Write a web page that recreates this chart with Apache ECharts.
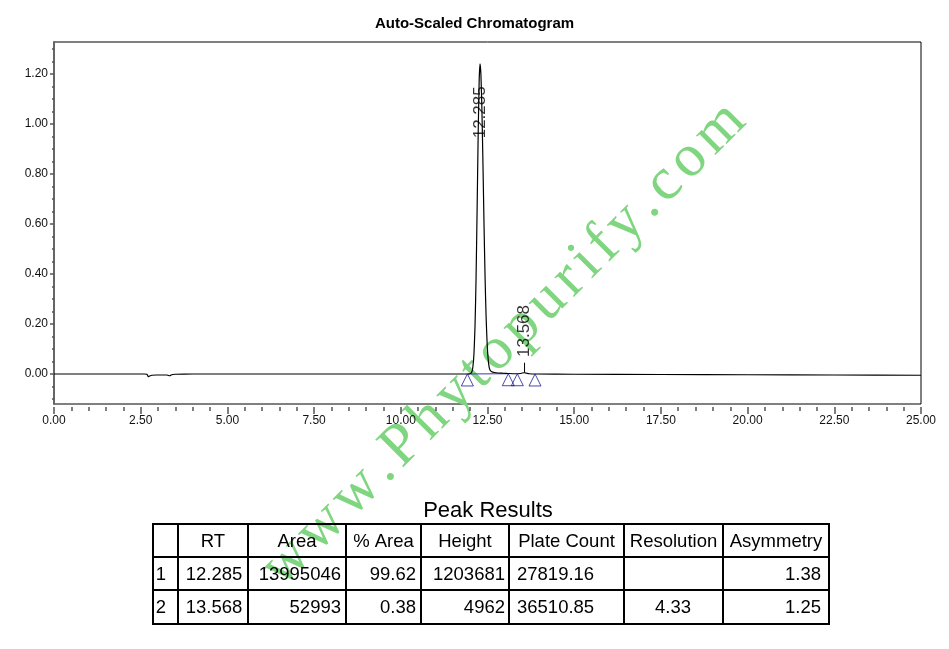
<!DOCTYPE html>
<html>
<head>
<meta charset="utf-8">
<script src="https://cdn.jsdelivr.net/npm/echarts@6/dist/echarts.min.js"></script>
<style>
  html, body { margin: 0; padding: 0; background: #fff; }
  #chart { width: 949px; height: 649px; }
</style>
</head>
<body>
<div id="chart"></div>
<script>
// detector trace: [minutes, AU]
const trace = [
  [0, 0], [1, 0], [2, 0], [2.6, 0], [2.68, -0.001], [2.72, -0.011], [2.76, -0.008],
  [2.82, -0.005], [2.95, -0.004], [3.1, -0.004], [3.25, -0.004], [3.3, -0.006],
  [3.34, -0.007], [3.38, -0.004], [3.42, -0.002], [3.5, -0.001], [4, 0], [5, 0],
  [6, 0], [7, 0], [8, 0], [9, 0], [10, 0], [11, 0], [11.5, 0], [11.9, 0],
  [12.0, 0.001], [12.05, 0.009], [12.08, 0.03], [12.11, 0.082], [12.14, 0.191],
  [12.17, 0.383], [12.2, 0.653], [12.23, 0.948], [12.26, 1.173], [12.285, 1.24],
  [12.31, 1.198], [12.34, 1.049], [12.37, 0.831], [12.4, 0.595], [12.43, 0.387],
  [12.46, 0.227], [12.49, 0.121], [12.52, 0.058], [12.55, 0.025], [12.58, 0.014],
  [12.62, 0.009], [12.7, 0.006], [12.8, 0.004], [12.95, 0.003], [13.1, 0.002],
  [13.3, 0.001], [13.45, 0.002], [13.5, 0.004], [13.568, 0.005], [13.63, 0.003],
  [13.7, 0.001], [13.9, 0], [15, -0.001], [17.5, -0.002], [20, -0.003],
  [22.5, -0.004], [25, -0.005]
];

// integration baseline and peak start/end marks
const baselineSeg = [[11.92, 0], [13.1, 0.001]];
const peakMarks = [[11.92, 0], [13.1, 0.001], [13.36, 0.001], [13.87, 0]];

// peak retention time labels
const peakRT = [12.285, 13.568];
const peakLabelY = [0.942, 0.068];
const peakTick = [[13.568, 0.005], [13.568, 0.045]];

// axis ticks
const yLabels = [0, 0.2, 0.4, 0.6, 0.8, 1.0, 1.2];
const yMinor = [-0.1, -0.05, 0, 0.05, 0.1, 0.15, 0.2, 0.25, 0.3, 0.35, 0.4, 0.45, 0.5,
  0.55, 0.6, 0.65, 0.7, 0.75, 0.8, 0.85, 0.9, 0.95, 1.0, 1.05, 1.1, 1.15, 1.2, 1.25, 1.3];

// peak results table
const tableHeader = ['', 'RT', 'Area', '% Area', 'Height', 'Plate Count', 'Resolution', 'Asymmetry'];
const tableRows = [
  ['1', '12.285', '13995046', '99.62', '1203681', '27819.16', '', '1.38'],
  ['2', '13.568', '52993', '0.38', '4962', '36510.85', '4.33', '1.25']
];

const watermark = 'www.Phytopurify.com';

const chart = echarts.init(document.getElementById('chart'));

const FONT = 'Liberation Sans, Arial, sans-serif';
const CELL_FONT = '18.5px ' + FONT;

// table layout
const colX = [153, 178, 248, 346, 421, 509, 624, 723, 829];
const rowY = [524, 557, 590, 624];
// how each column sits: [align, x]
const cellPos = [
  ['center', 161], ['center', 214], ['right', 341], ['right', 416],
  ['right', 505], ['left', 517], ['center', 673], ['right', 821]
];

function tableGraphics() {
  const g = [];
  colX.forEach(x => {
    g.push({
      type: 'line',
      shape: { x1: x, y1: rowY[0], x2: x, y2: rowY[rowY.length - 1] },
      style: { stroke: '#000', lineWidth: 2 }
    });
  });
  rowY.forEach(y => {
    g.push({
      type: 'line',
      shape: { x1: colX[0] - 1, y1: y, x2: colX[colX.length - 1] + 1, y2: y },
      style: { stroke: '#000', lineWidth: 2 }
    });
  });
  tableHeader.forEach((t, i) => {
    g.push({
      type: 'text',
      x: (colX[i] + colX[i + 1]) / 2,
      y: (rowY[0] + rowY[1]) / 2 + 1,
      style: { text: t, font: CELL_FONT, fill: '#000', align: 'center', verticalAlign: 'middle' }
    });
  });
  tableRows.forEach((row, r) => {
    row.forEach((t, i) => {
      g.push({
        type: 'text',
        x: cellPos[i][1],
        y: (rowY[r + 1] + rowY[r + 2]) / 2 + 1,
        style: { text: t, font: CELL_FONT, fill: '#000', align: cellPos[i][0], verticalAlign: 'middle' }
      });
    });
  });
  return g;
}

// letter-spaced watermark: one text per character along a rotated baseline
function watermarkGraphic() {
  const font = '60px Liberation Serif, serif';
  const ctx = document.createElement('canvas').getContext('2d');
  ctx.font = font;
  const gap = 6;
  let x = 0;
  const children = [];
  for (const ch of watermark) {
    children.push({
      type: 'text',
      x: x,
      y: 0,
      style: { text: ch, font: font, fill: '#80d680', align: 'left', verticalAlign: 'alphabetic' }
    });
    x += ctx.measureText(ch).width + gap;
  }
  return {
    type: 'group',
    x: 250,
    y: 556,
    rotation: 45 * Math.PI / 180,
    z: 1,
    children: children
  };
}

const option = {
  animation: false,
  backgroundColor: '#fff',
  title: {
    text: 'Auto-Scaled Chromatogram',
    left: 'center',
    top: 11,
    textStyle: { fontFamily: FONT, fontSize: 15, fontWeight: 'bold', color: '#000' }
  },
  grid: {
    left: 54,
    right: 28,
    top: 42,
    bottom: 245,
    show: true,
    borderColor: '#000',
    borderWidth: 1,
    backgroundColor: 'transparent'
  },
  xAxis: {
    type: 'value',
    min: 0,
    max: 25,
    interval: 2.5,
    offset: 3,
    axisLine: { show: false, onZero: false },
    axisTick: { show: true, length: 7, lineStyle: { color: '#555', width: 1.5 } },
    minorTick: { show: true, splitNumber: 5, length: 4, lineStyle: { color: '#555', width: 1.5 } },
    splitLine: { show: false },
    axisLabel: {
      margin: 8,
      fontFamily: FONT,
      fontSize: 12,
      color: '#111',
      formatter: v => v.toFixed(2)
    }
  },
  yAxis: [
    {
      type: 'value',
      min: -0.12,
      max: 1.327,
      axisLine: { show: true, lineStyle: { color: '#666', width: 2 } },
      axisTick: { show: true, length: 4, customValues: yLabels, lineStyle: { color: '#555', width: 1.5 } },
      splitLine: { show: false },
      axisLabel: {
        customValues: yLabels,
        margin: 6,
        fontFamily: FONT,
        fontSize: 12,
        color: '#111',
        formatter: v => v.toFixed(2)
      }
    },
    {
      type: 'value',
      position: 'left',
      min: -0.12,
      max: 1.327,
      axisLine: { show: false },
      axisTick: { show: true, length: 2, customValues: yMinor, lineStyle: { color: '#555', width: 1.5 } },
      splitLine: { show: false },
      axisLabel: { show: false }
    }
  ],
  series: [
    {
      name: 'trace',
      type: 'line',
      data: trace,
      showSymbol: false,
      smooth: 0.2,
      lineStyle: { color: '#000', width: 1.2 },
      z: 3
    },
    {
      name: 'baseline',
      type: 'line',
      data: baselineSeg,
      showSymbol: false,
      lineStyle: { color: '#3a3ab0', width: 1 },
      z: 2
    },
    {
      name: 'peakTick',
      type: 'line',
      data: peakTick,
      showSymbol: false,
      lineStyle: { color: '#000', width: 1 },
      z: 3
    },
    {
      name: 'marks',
      type: 'scatter',
      data: peakMarks,
      symbol: 'triangle',
      symbolSize: [12, 12],
      symbolOffset: [0, 6],
      itemStyle: { color: 'rgba(0,0,0,0)', borderColor: '#1c1c9c', borderWidth: 1 },
      z: 4
    },
    {
      name: 'rtLabels',
      type: 'scatter',
      data: peakRT.map((rt, i) => [rt, peakLabelY[i]]),
      symbolSize: 0,
      label: {
        show: true,
        position: [0, 0],
        rotate: 90,
        align: 'left',
        verticalAlign: 'middle',
        fontFamily: FONT,
        fontSize: 17,
        color: '#000',
        formatter: p => p.value[0].toFixed(3)
      },
      z: 5
    }
  ],
  graphic: [
    watermarkGraphic(),
    {
      type: 'text',
      x: 488,
      y: 511,
      style: { text: 'Peak Results', font: '22px ' + FONT, fill: '#000', align: 'center', verticalAlign: 'middle' }
    },
    ...tableGraphics()
  ]
};

chart.setOption(option);
</script>
</body>
</html>
